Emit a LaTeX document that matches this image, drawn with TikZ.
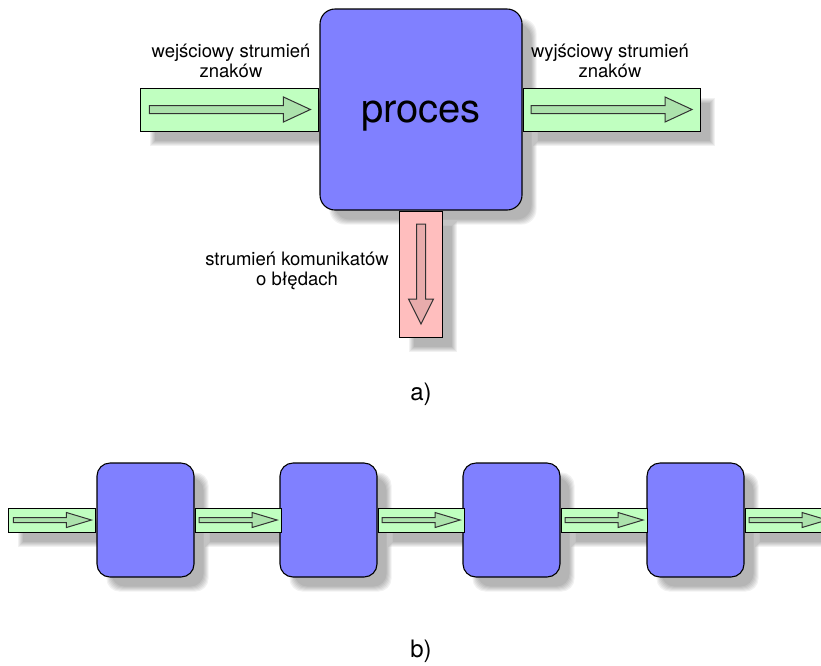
\documentclass[tikz,border=0pt]{standalone}
\usepackage{fontspec}
\setmainfont{TeX Gyre Heros}
\usetikzlibrary{backgrounds}

\definecolor{procblue}{RGB}{128,128,255}
\definecolor{bandgreen}{RGB}{192,255,192}
\definecolor{arrowgreen}{RGB}{172,226,172}
\definecolor{bandred}{RGB}{255,190,190}
\definecolor{arrowred}{RGB}{232,172,172}
\definecolor{edgegray}{RGB}{50,50,50}

% soft shadow under a node: #1 name, #2 corner radius
\newcommand{\softshadow}[2]{%
  \foreach \k in {-3,-2,-1,0,1,2}{
    \fill[black,opacity=0.055,rounded corners=#2]
      ([shift={(12-\k,12-\k)}]#1.north west) rectangle ([shift={(12+\k,12+\k)}]#1.south east);}}
% hollow arrow inside a band: #1 options, #2 node, #3 length, #4 shaft, #5 head width, #6 head length
\newcommand{\flowarrow}[6]{%
  \draw[flow,shift={(#2)},#1] (-#3/2,-#4/2) -- (#3/2-#6,-#4/2) -- (#3/2-#6,-#5/2) -- (#3/2,0)
    -- (#3/2-#6,#5/2) -- (#3/2-#6,#4/2) -- (-#3/2,#4/2) -- cycle;}

\begin{document}
\begin{tikzpicture}[x=1pt,y=-1pt,
  procbox/.style={draw=black,line width=1.1pt,fill=procblue,rounded corners=#1,inner sep=0},
  band/.style={draw=black,line width=1pt,fill=bandgreen,inner sep=0},
  flow/.style={draw=edgegray,line width=1pt,fill=arrowgreen,line join=miter},
  lbl/.style={align=center,font=\fontsize{18.5}{20}\selectfont}]
  \useasboundingbox (0,0) rectangle (821,665);
  \clip (0,0) rectangle (821,665);

  % a) one process
  \node[procbox=15pt,minimum width=202,minimum height=201] (proc) at (421,109.5) {};
  \node[band,anchor=east,minimum width=178,minimum height=43] (inband) at (proc.west) {};
  \node[band,anchor=west,minimum width=177,minimum height=43] (outband) at (proc.east) {};
  \node[band,fill=bandred,anchor=north,minimum width=43,minimum height=126] (errband) at (proc.south) {};
  \flowarrow{}{inband}{161}{8}{25}{27}
  \flowarrow{}{outband}{161}{8}{25}{27}
  \flowarrow{fill=arrowred,rotate=-90}{errband}{100}{9}{25}{25}
  \node[lbl] (inlbl) at (231,61) {wejściowy strumień\\znaków};
  \node[lbl] (outlbl) at (610,61) {wyjściowy strumień\\znaków};
  \node[lbl] (errlbl) at (297,271) {strumień komunikatów\\o błędach};
  \node[font=\fontsize{40}{44}\selectfont,anchor=base] (proclbl) at (421,122) {proces};
  \node[font=\fontsize{24}{28}\selectfont,anchor=base] (alabel) at (421,400) {a)};

  % b) chain of processes
  \foreach \i/\x in {1/145.5,2/328.5,3/511.5,4/695.5}
    {\node[procbox=13pt,minimum width=97,minimum height=114] (p\i) at (\x,520) {};}
  \node[band,anchor=east,minimum width=87,minimum height=24] (s0) at (p1.west) {};
  \foreach \i in {1,...,4}
    {\node[band,anchor=west,minimum width=86,minimum height=24] (s\i) at (p\i.east) {};}
  \foreach \i in {0,...,4}
    {\flowarrow{}{s\i}{78}{5}{15}{25}}
  \node[font=\fontsize{24}{28}\selectfont,anchor=base] (blabel) at (421,657) {b)};

  % shadows
  \begin{pgfonlayer}{background}
    \softshadow{proc}{15pt}
    \foreach \n in {inband,outband,errband,s0,s1,s2,s3,s4}
      {\softshadow{\n}{0pt}}
    \foreach \n in {p1,p2,p3,p4}
      {\softshadow{\n}{13pt}}
  \end{pgfonlayer}
\end{tikzpicture}
\end{document}
